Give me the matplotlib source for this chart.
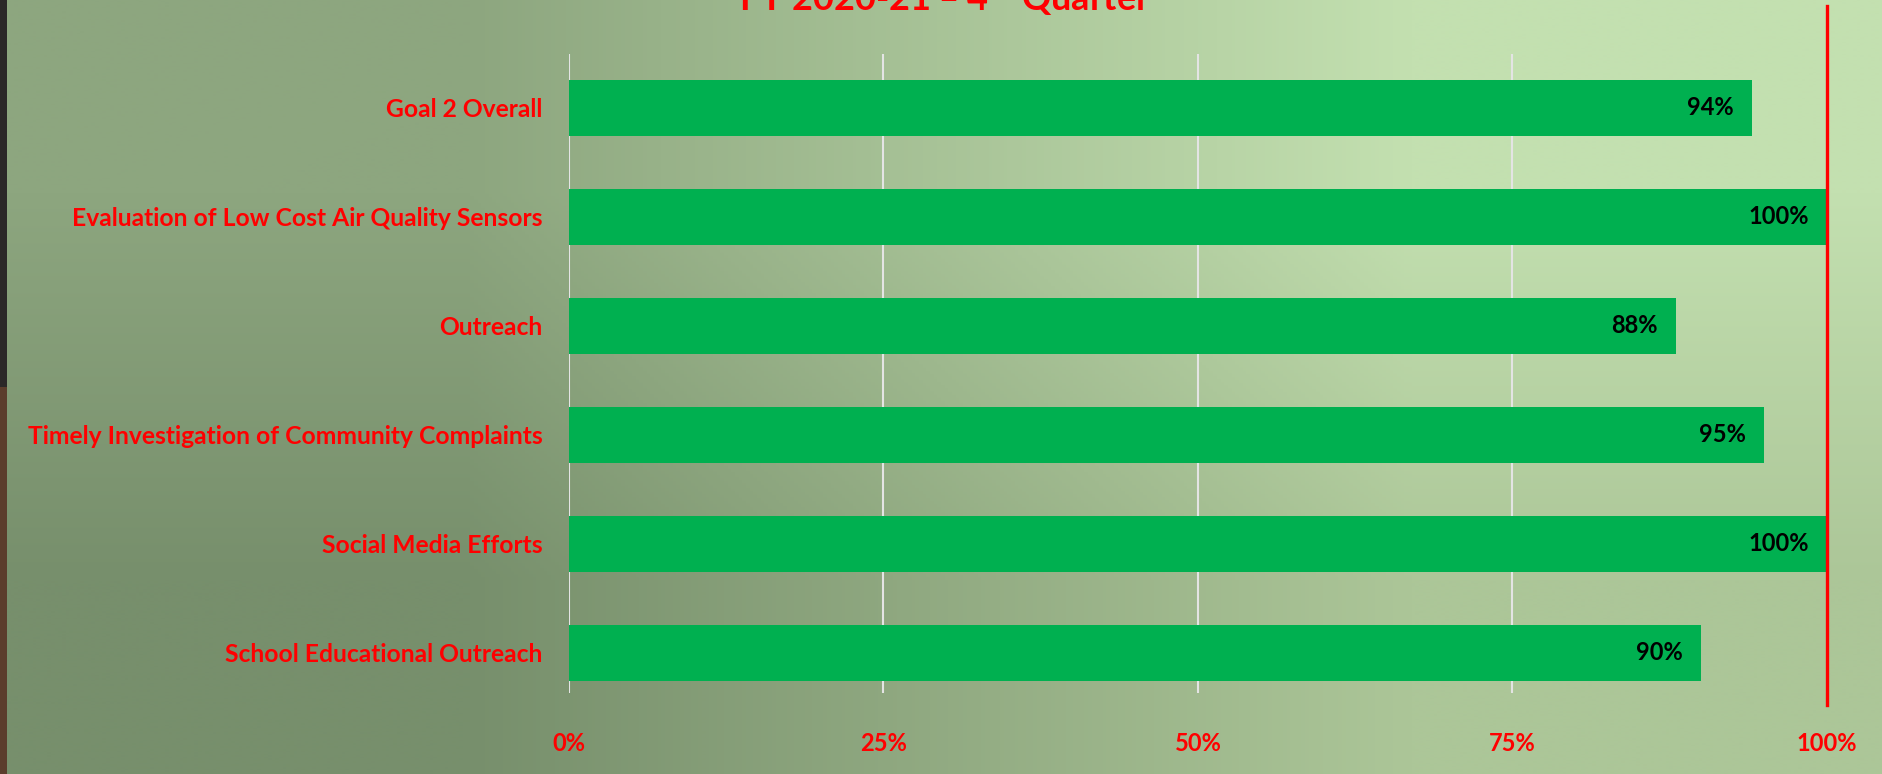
import numpy as np
import matplotlib
matplotlib.use("Agg")
import matplotlib.pyplot as plt
from matplotlib.patches import Rectangle
from matplotlib.ticker import FuncFormatter

# data
categories = [
    "Goal 2 Overall",
    "Evaluation of Low Cost Air Quality Sensors",
    "Outreach",
    "Timely Investigation of Community Complaints",
    "Social Media Efforts",
    "School Educational Outreach",
]
values = [0.94, 1.00, 0.88, 0.95, 1.00, 0.90]
x_ticks = [0, 0.25, 0.5, 0.75, 1.0]
title_text = "FY 2020-21 \u2013 4$^{\\mathregular{th}}$ Quarter"

plt.rcParams['font.family'] = ['Lato', 'DejaVu Sans']

fig = plt.figure(figsize=(18.83, 7.74), dpi=100)

# background gradient
bg = fig.add_axes([0, 0, 1, 1], zorder=-10)
grad = np.array([
    [[0x8d, 0xa6, 0x7f], [0xc3, 0xe0, 0xb0]],
    [[0x77, 0x8f, 0x6c], [0xac, 0xc6, 0x98]],
]) / 255.0
bg.imshow(grad, extent=[0, 1, 0, 1], aspect='auto', interpolation='bilinear')
bg.add_patch(Rectangle((0, 0.5), 7 / 1883, 0.5, color='#2b2828', lw=0))
bg.add_patch(Rectangle((0, 0), 7 / 1883, 0.5, color='#5b3d2c', lw=0))
bg.set_xlim(0, 1)
bg.set_ylim(0, 1)
bg.axis('off')

ax = fig.add_axes([569 / 1883, 1 - 693 / 774, (1827 - 569) / 1883, (693 - 54) / 774])
ax.patch.set_alpha(0)

ypos = np.arange(len(categories))[::-1]
ax.barh(ypos, values, height=0.51, color='#00b050', zorder=3)

for y, v in zip(ypos, values):
    ax.annotate("{:.0%}".format(v), (v, y), xytext=(-13, 0), textcoords='offset points',
                ha='right', va='center', fontsize=17, fontweight='bold', color='black', zorder=4)

ax.set_xlim(0, 1)
ax.set_ylim(-0.367, 5.495)
ax.set_xticks(x_ticks)
ax.xaxis.set_major_formatter(FuncFormatter(lambda x, p: "{:.0%}".format(x)))
ax.set_yticks(ypos)
ax.set_yticklabels(categories)
ax.tick_params(axis='x', length=0, pad=28, labelsize=17, labelcolor='red')
ax.tick_params(axis='y', length=0, pad=19, labelsize=17.7, labelcolor='red')
for lab in ax.get_xticklabels() + ax.get_yticklabels():
    lab.set_fontweight('bold')

ax.grid(axis='x', color='#e4e4e4', lw=1.5, zorder=1)
ax.grid(axis='y', visible=False)
for s in ax.spines.values():
    s.set_visible(False)

ax.axvline(1.0, ymin=-0.019, ymax=1.075, color='red', lw=2.4, clip_on=False, zorder=5)

# title sits mostly above the top edge, as in the original slide
fig.text(0.5 * (740 + 1150) / 1883, 1 - 11 / 774, title_text, ha='center', va='baseline',
         fontsize=26, fontweight='bold', color='red')

fig.savefig("out.png", dpi=100)
